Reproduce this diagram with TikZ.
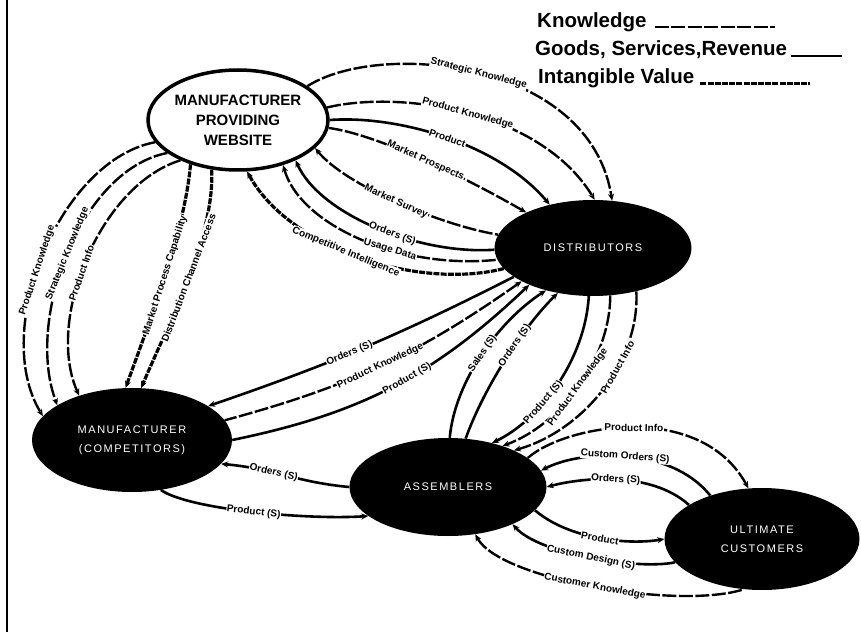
\documentclass[tikz,border=0pt]{standalone}
\usepackage{fontspec}
\setmainfont{Liberation Sans}
\newfontfamily\capsfont[LetterSpace=14]{Liberation Sans}
\usetikzlibrary{arrows.meta,shapes.geometric}

\tikzset{
  darknode/.style={ellipse,fill=black,text=white,inner sep=0pt,align=center,
    font=\capsfont\fontsize{11}{19}\selectfont},
  webnode/.style={ellipse,draw,line width=3.5pt,fill=white,inner sep=0pt,align=center,
    font=\bfseries\fontsize{15}{20}\selectfont},
  goods/.style={line width=2.6pt},
  know/.style={line width=2.4pt,dash pattern=on 14pt off 2.5pt},
  intang/.style={line width=3.2pt,dash pattern=on 6pt off 1.2pt},
  lab/.style={sloped,fill=white,inner sep=.5pt,font=\bfseries\fontsize{10}{10}\selectfont},
  keytext/.style={anchor=west,inner sep=0pt,font=\bfseries\fontsize{20.5}{22}\selectfont}
}

\begin{document}
\begin{tikzpicture}[x=1pt,y=1pt,>={Stealth[length=7pt,width=6pt]}]
  \useasboundingbox (0,0) rectangle (861,-644);
  \draw[line width=1.2pt] (7,0) -- (7,-632);

  \node[webnode,minimum width=180pt,minimum height=100pt] (web) at (238,-120)
    {MANUFACTURER\\PROVIDING\\WEBSITE};
  \node[darknode,minimum width=197pt,minimum height=96pt] (dist) at (593,-248) {DISTRIBUTORS};
  \node[darknode,minimum width=200pt,minimum height=104pt] (mfr) at (132,-440)
    {MANUFACTURER\\(COMPETITORS)};
  \node[darknode,minimum width=197pt,minimum height=98pt] (asm) at (448,-487) {ASSEMBLERS};
  \node[darknode,minimum width=195pt,minimum height=102pt] (cust) at (762,-539)
    {ULTIMATE\\CUSTOMERS};

  % key
  \node[keytext] (kknow) at (537,-22) {Knowledge};
  \node[keytext] (kgoods) at (535,-50) {Goods, Services,Revenue};
  \node[keytext] (kint) at (538,-78) {Intangible Value};
  \coordinate (eknow) at (775,0);
  \coordinate (egoods) at (842,0);
  \coordinate (eint) at (810,0);
  \draw[know] ([xshift=8pt]kknow.base east) -- (eknow |- kknow.base);
  \draw[goods] ([xshift=4pt]kgoods.base east) -- (egoods |- kgoods.base);
  \draw[intang] ([xshift=6pt]kint.base east) -- (eint |- kint.base);

  % website and distributors
  \draw[know,->] (web.26) .. controls (380,-40) and (590,-60) .. (dist.68)
    node[lab,pos=.5] {Strategic Knowledge};
  \draw[know,->] (web.8) .. controls (400,-90) and (540,-110) .. (dist.88)
    node[lab,pos=.5] {Product Knowledge};
  \draw[goods,->] (web.0) .. controls (400,-115) and (500,-145) .. (dist.135)
    node[lab,pos=.5] {Product};
  \draw[know,->] (web.-5) .. controls (380,-135) and (470,-180) .. (dist.152)
    node[lab,pos=.5] {Market Prospects};
  \draw[know,<-] (web.-20) .. controls (345,-185) and (440,-225) .. (dist.172)
    node[lab,pos=.5] {Market Survey};
  \draw[goods,<-] (web.-35) .. controls (320,-215) and (420,-255) .. (dist.181)
    node[lab,pos=.57] {Orders (S)};
  \draw[know,<-] (web.-45) .. controls (300,-225) and (400,-270) .. (dist.187)
    node[lab,pos=.62] {Usage Data};
  \draw[intang,->] (dist.193) .. controls (420,-290) and (290,-250) .. (web.-80)
    node[lab,pos=.55] {Competitive Intelligence};

  % website and manufacturer
  \draw[know,->] (web.195) .. controls (60,-160) and (-10,-330) .. (mfr.165)
    node[lab,pos=.55] {Product Knowledge};
  \draw[know,->] (web.205) .. controls (80,-170) and (25,-320) .. (mfr.155)
    node[lab,pos=.5] {Strategic Knowledge};
  \draw[know,->] (web.215) .. controls (100,-185) and (45,-320) .. (mfr.140)
    node[lab,pos=.55] {Product Info};
  \draw[intang,->] (web.-137) .. controls (185,-230) and (150,-320) .. (mfr.97)
    node[lab,pos=.5] {Market Process Capability};
  \draw[intang,->] (web.-118) .. controls (215,-235) and (170,-320) .. (mfr.80)
    node[lab,pos=.5] {Distribution Channel Access};

  % distributors and manufacturer
  \draw[goods,->] (dist.200) to[bend left=4] node[lab,pos=.55] {Orders (S)} (mfr.24);
  \draw[know,<-] (dist.205) to[bend left=10] node[lab] {Product Knowledge} (mfr.12);
  \draw[goods,<-] (dist.210) to[bend left=16] node[lab,pos=.45] {Product (S)} (mfr.0);

  % distributors and assemblers
  \draw[goods,<-] (dist.222) .. controls (500,-320) and (455,-380) .. (asm.88)
    node[lab,pos=.5] {Sales (S)};
  \draw[goods,<-] (dist.232) .. controls (525,-325) and (485,-385) .. (asm.70)
    node[lab,pos=.42] {Orders (S)};
  \draw[goods,->] (dist.-95) .. controls (585,-360) and (540,-420) .. (asm.45)
    node[lab,pos=.62] {Product (S)};
  \draw[know,->] (dist.-70) .. controls (610,-360) and (560,-425) .. (asm.37)
    node[lab,pos=.5] {Product Knowledge};
  \draw[know,->] (dist.-45) .. controls (640,-360) and (585,-430) .. (asm.29)
    node[lab,pos=.38] {Product Info};

  % manufacturer and assemblers
  \draw[goods,<-] (mfr.-15) to[out=-5,in=175] node[lab,pos=.4] {Orders (S)} (asm.180);
  \draw[goods,->] (mfr.-60) .. controls (190,-510) and (310,-520) .. (asm.200)
    node[lab,pos=.5] {Product (S)};

  % assemblers and customers
  \draw[know,->] (asm.20) .. controls (565,-425) and (700,-400) .. (cust.105)
    node[lab,pos=.5] {Product Info};
  \draw[goods,<-] (asm.10) .. controls (580,-450) and (670,-445) .. (cust.140)
    node[lab,pos=.5] {Custom Orders (S)};
  \draw[goods,<-] (asm.0) .. controls (580,-478) and (650,-470) .. (cust.155)
    node[lab,pos=.5] {Orders (S)};
  \draw[goods,->] (asm.-15) .. controls (570,-540) and (630,-545) .. (cust.180)
    node[lab,pos=.5] {Product};
  \draw[goods,<-] (asm.-30) .. controls (540,-555) and (640,-570) .. (cust.195)
    node[lab,pos=.5] {Custom Design (S)};
  \draw[know,<-] (asm.-60) .. controls (500,-580) and (680,-610) .. (cust.-110)
    node[lab,pos=.5] {Customer Knowledge};
\end{tikzpicture}
\end{document}
